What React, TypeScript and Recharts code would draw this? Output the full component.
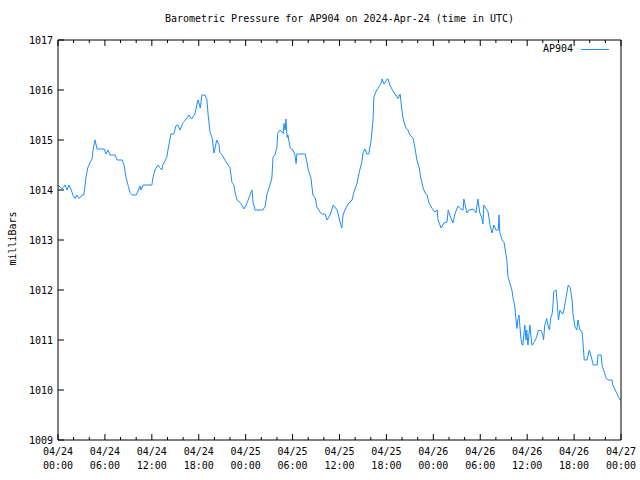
import React from "react";
import { LineChart, Line, XAxis, YAxis } from "recharts";

// hours since 2024-04-24 00:00 UTC
const hours = [
  0, 0.5, 0.9, 1.15, 1.4, 1.7, 1.9, 2.2, 2.4, 2.7, 3.1, 3.3, 3.6, 3.8, 4.1, 4.35, 4.5, 4.75, 4.85, 5.0,
  5.9, 6.15, 6.4, 6.65, 7.3, 7.55, 8.2, 8.45, 8.7, 9.0, 9.2, 9.5, 10.0, 10.5, 10.6, 10.9, 12.0, 12.15, 12.4, 12.8,
  13.0, 13.3, 13.4, 13.9, 14.2, 14.45, 14.8, 15.1, 15.35, 15.6, 16.0, 16.4, 16.75, 17.1, 17.5, 17.9, 18.2, 18.4, 18.8, 19.05,
  19.2, 19.45, 19.7, 19.95, 20.3, 20.6, 20.7, 21.0, 21.35, 21.75, 22.0, 22.25, 22.5, 22.65, 22.9, 23.3, 23.5, 23.8, 24.2, 24.55,
  24.8, 24.95, 25.2, 26.2, 26.5, 26.7, 27.1, 27.35, 27.5, 27.75, 28.0, 28.1, 28.4, 28.8, 28.9, 29.05, 29.15, 29.3, 29.4, 29.7,
  30.05, 30.3, 30.45, 30.55, 31.6, 31.85, 32.0, 32.35, 32.6, 32.9, 33.1, 33.5, 33.75, 34.15, 34.4, 34.8, 35.2, 35.7, 36.1, 36.3,
  36.45, 36.7, 37.1, 37.6, 37.85, 38.25, 38.5, 38.85, 39.0, 39.25, 39.5, 39.75, 40.0, 40.15, 40.3, 40.4, 40.7, 40.9, 41.3, 41.45,
  41.7, 42.1, 42.2, 42.45, 42.7, 43.0, 43.5, 43.75, 43.95, 44.1, 44.25, 44.5, 44.75, 45.0, 45.4, 45.65, 45.9, 46.2, 46.4, 46.7,
  46.95, 47.2, 47.45, 47.8, 48.2, 48.5, 48.6, 49.0, 49.35, 49.75, 49.9, 50.1, 50.5, 50.8, 51.15, 51.5, 51.8, 51.9, 52.3, 52.55,
  53.1, 53.45, 53.7, 53.95, 54.2, 54.35, 54.45, 54.85, 55.0, 55.25, 55.5, 55.75, 56.0, 56.3, 56.4, 56.5, 56.8, 57.05, 57.15, 57.4,
  57.55, 57.8, 58.05, 58.2, 58.4, 58.55, 58.7, 58.8, 58.95, 59.2, 59.35, 59.45, 59.7, 59.85, 59.95, 60.1, 60.35, 60.6, 60.7, 60.95,
  61.2, 61.4, 61.75, 62.0, 62.1, 62.25, 62.5, 62.65, 62.85, 63.0, 63.2, 63.3, 63.4, 63.7, 63.85, 64.0, 64.2, 64.45, 64.6, 64.85,
  65.1, 65.25, 65.5, 65.75, 65.85, 66.1, 66.35, 66.5, 66.75, 67.0, 67.1, 67.3, 67.65, 67.8, 67.95, 68.3, 68.45, 68.95, 69.05, 69.45,
  69.6, 69.85, 70.1, 70.35, 70.85, 70.95, 71.25, 71.5, 71.65, 71.9, 72.0,
];

const pressure = [
  1014.1, 1014.02, 1014.1, 1014.0, 1014.1, 1014.0, 1013.9, 1013.83, 1013.9, 1013.83, 1013.9, 1013.9, 1014.27, 1014.44, 1014.55, 1014.62, 1014.82, 1015.0, 1014.92, 1014.82,
  1014.82, 1014.72, 1014.8, 1014.7, 1014.7, 1014.6, 1014.6, 1014.5, 1014.25, 1014.07, 1013.95, 1013.9, 1013.9, 1014.08, 1014.0, 1014.1, 1014.1, 1014.25, 1014.4, 1014.5,
  1014.45, 1014.4, 1014.5, 1014.65, 1014.92, 1015.12, 1015.12, 1015.29, 1015.3, 1015.2, 1015.35, 1015.42, 1015.5, 1015.42, 1015.52, 1015.8, 1015.64, 1015.9, 1015.9, 1015.8,
  1015.5, 1015.15, 1015.05, 1014.74, 1015.0, 1014.9, 1014.75, 1014.7, 1014.6, 1014.5, 1014.45, 1014.15, 1014.1, 1013.94, 1013.8, 1013.75, 1013.7, 1013.62, 1013.75, 1013.9,
  1014.0, 1013.75, 1013.6, 1013.6, 1013.68, 1013.9, 1014.1, 1014.24, 1014.66, 1014.7, 1014.86, 1015.13, 1015.2, 1015.13, 1015.33, 1015.2, 1015.42, 1015.05, 1015.1, 1014.84,
  1014.8, 1014.7, 1014.53, 1014.72, 1014.72, 1014.55, 1014.4, 1014.24, 1013.9, 1013.84, 1013.66, 1013.56, 1013.52, 1013.52, 1013.4, 1013.5, 1013.7, 1013.6, 1013.34, 1013.24,
  1013.5, 1013.6, 1013.72, 1013.8, 1013.96, 1014.14, 1014.34, 1014.56, 1014.74, 1014.82, 1014.72, 1014.72, 1014.95, 1015.16, 1015.44, 1015.86, 1015.98, 1016.03, 1016.13, 1016.22,
  1016.12, 1016.22, 1016.22, 1016.1, 1016.02, 1015.94, 1015.83, 1015.92, 1015.64, 1015.46, 1015.36, 1015.24, 1015.2, 1015.1, 1015.04, 1014.84, 1014.6, 1014.44, 1014.24, 1014.04,
  1013.94, 1013.9, 1013.74, 1013.64, 1013.56, 1013.6, 1013.4, 1013.24, 1013.34, 1013.36, 1013.6, 1013.5, 1013.34, 1013.54, 1013.68, 1013.62, 1013.6, 1013.82, 1013.54, 1013.6,
  1013.62, 1013.54, 1013.82, 1013.54, 1013.44, 1013.32, 1013.7, 1013.6, 1013.56, 1013.3, 1013.14, 1013.3, 1013.2, 1013.2, 1013.5, 1013.15, 1013.0, 1012.95, 1012.84, 1012.6,
  1012.27, 1012.13, 1012.0, 1011.83, 1011.7, 1011.43, 1011.23, 1011.4, 1011.5, 1011.03, 1010.9, 1010.9, 1011.3, 1011.0, 1011.2, 1010.9, 1011.3, 1010.9, 1010.9, 1010.97,
  1011.05, 1011.19, 1011.19, 1011.1, 1011.0, 1011.3, 1011.43, 1011.3, 1011.2, 1011.43, 1011.53, 1011.7, 1011.97, 1012.0, 1011.73, 1011.4, 1011.6, 1011.53, 1011.53, 1011.73,
  1011.97, 1012.1, 1012.05, 1011.8, 1011.53, 1011.27, 1011.2, 1011.4, 1011.2, 1011.17, 1011.03, 1010.6, 1010.6, 1010.7, 1010.8, 1010.6, 1010.5, 1010.5, 1010.7, 1010.7,
  1010.47, 1010.37, 1010.23, 1010.2, 1010.2, 1010.1, 1010.0, 1009.93, 1009.87, 1009.8, 1009.8,
];

const dayLabels = ["04/24", "04/25", "04/26", "04/27"];
// every 2 hours; the 6-hourly ones get a longer tick and a label
const timeTicks = [
  0, 2, 4, 6, 8, 10, 12, 14, 16, 18, 20, 22, 24, 26, 28, 30, 32, 34, 36,
  38, 40, 42, 44, 46, 48, 50, 52, 54, 56, 58, 60, 62, 64, 66, 68, 70, 72,
];
const pressureTicks = [1009, 1010, 1011, 1012, 1013, 1014, 1015, 1016, 1017];

const data = hours.map((h, i) => ({ h, p: pressure[i] }));

const FONT = "'DejaVu Sans Mono', 'Liberation Mono', monospace";
const LINE_COLOR = "#1a8cff";

function BottomTick(props: any) {
  const { x, y, payload } = props;
  const h = payload.value;
  const major = h % 6 === 0;
  if (!major) {
    return <line x1={x} y1={y} x2={x} y2={y - 3} stroke="#000" />;
  }
  const day = dayLabels[Math.floor(h / 24)];
  const hh = String(h % 24).padStart(2, "0") + ":00";
  return (
    <g>
      <line x1={x} y1={y} x2={x} y2={y - 6} stroke="#000" />
      <text x={x} y={y + 15} textAnchor="middle" fontFamily={FONT} fontSize={10} fill="#000">
        <tspan x={x} dy={0}>{day}</tspan>
        <tspan x={x} dy={14}>{hh}</tspan>
      </text>
    </g>
  );
}

function TopTick(props: any) {
  const { x, y, payload } = props;
  const len = payload.value % 6 === 0 ? 6 : 3;
  return <line x1={x} y1={y} x2={x} y2={y + len} stroke="#000" />;
}

function LeftTick(props: any) {
  const { x, y, payload } = props;
  return (
    <g>
      <line x1={x} y1={y} x2={x + 6} y2={y} stroke="#000" />
      <text x={x - 5} y={y} dy={4} textAnchor="end" fontFamily={FONT} fontSize={10} fill="#000">
        {payload.value}
      </text>
    </g>
  );
}

function RightTick(props: any) {
  const { x, y } = props;
  return <line x1={x} y1={y} x2={x - 6} y2={y} stroke="#000" />;
}

export default function App() {
  return (
    <div style={{ position: "absolute", left: 0, top: 0, width: 640, height: 480, background: "#fff" }}>
      <div
        style={{
          position: "absolute",
          top: 13,
          left: 58,
          width: 563,
          textAlign: "center",
          fontFamily: FONT,
          fontSize: 10,
          color: "#000",
        }}
      >
        Barometric Pressure for AP904 on 2024-Apr-24 (time in UTC)
      </div>
      <div
        style={{
          position: "absolute",
          left: -38,
          top: 233,
          width: 100,
          textAlign: "center",
          transform: "rotate(-90deg)",
          fontFamily: FONT,
          fontSize: 10,
          color: "#000",
        }}
      >
        milliBars
      </div>
      {/* legend */}
      <div
        style={{
          position: "absolute",
          top: 43,
          left: 543,
          display: "flex",
          alignItems: "center",
          fontFamily: FONT,
          fontSize: 10,
          color: "#000",
        }}
      >
        <span>AP904</span>
        <span
          style={{
            display: "inline-block",
            width: 28,
            borderTop: `1px solid ${LINE_COLOR}`,
            marginLeft: 8,
            marginTop: 2,
          }}
        />
      </div>
      <LineChart width={640} height={480} data={data} margin={{ top: 0, right: 0, bottom: 0, left: 0 }}>
        <XAxis
          xAxisId={0}
          dataKey="h"
          type="number"
          domain={[0, 72]}
          ticks={timeTicks}
          interval={0}
          height={40}
          tickSize={0}
          tickMargin={0}
          tick={<BottomTick />}
          tickLine={false}
          axisLine={{ stroke: "#000" }}
        />
        <XAxis
          xAxisId="top"
          orientation="top"
          dataKey="h"
          type="number"
          domain={[0, 72]}
          ticks={timeTicks}
          interval={0}
          height={40}
          tickSize={0}
          tickMargin={0}
          tick={<TopTick />}
          tickLine={false}
          axisLine={{ stroke: "#000" }}
        />
        <YAxis
          yAxisId={0}
          type="number"
          domain={[1009, 1017]}
          ticks={pressureTicks}
          interval={0}
          width={58}
          tickSize={0}
          tickMargin={0}
          tick={<LeftTick />}
          tickLine={false}
          axisLine={{ stroke: "#000" }}
        />
        <YAxis
          yAxisId="right"
          orientation="right"
          type="number"
          domain={[1009, 1017]}
          ticks={pressureTicks}
          interval={0}
          width={19}
          tickSize={0}
          tickMargin={0}
          tick={<RightTick />}
          tickLine={false}
          axisLine={{ stroke: "#000" }}
        />
        <Line
          xAxisId={0}
          yAxisId={0}
          dataKey="p"
          type="linear"
          stroke={LINE_COLOR}
          strokeWidth={1}
          dot={false}
          isAnimationActive={false}
        />
      </LineChart>
    </div>
  );
}
